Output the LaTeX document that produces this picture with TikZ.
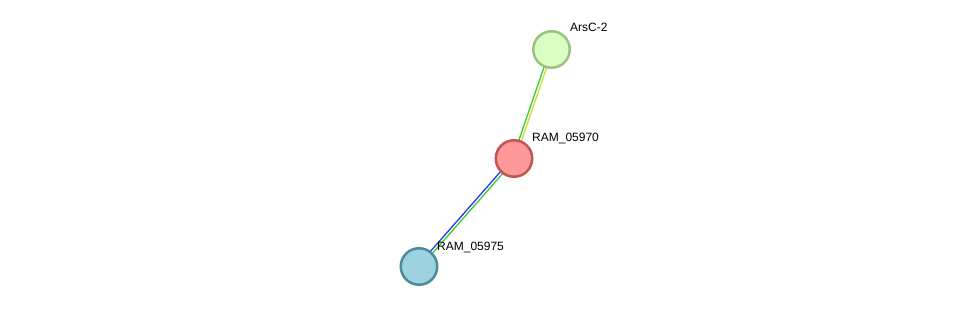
\documentclass[tikz,border=0pt]{standalone}
\usepackage{fontspec}
\setmainfont{Liberation Sans}
\begin{document}
\begin{tikzpicture}[x=1pt,y=-1pt,
  prot/.style={circle,line width=2.5pt,minimum size=36.5pt,inner sep=0pt},
  lbl/.style={font=\fontsize{12pt}{14pt}\selectfont,anchor=base west,inner sep=0pt},
  edge/.style={line width=1.3pt}]
\definecolor{gfill}{HTML}{D9FFC2}\definecolor{gdraw}{HTML}{9BC283}
\definecolor{rfill}{HTML}{FF9999}\definecolor{rdraw}{HTML}{C05555}
\definecolor{bfill}{HTML}{9DD3E0}\definecolor{bdraw}{HTML}{4F8A99}
\definecolor{egreen}{HTML}{33CC33}\definecolor{eyellow}{HTML}{CCDD33}\definecolor{eblue}{HTML}{3333EE}
\useasboundingbox (0,0) rectangle (975,313);
\coordinate (a) at (551.5,49.5);
\coordinate (b) at (514,158.5);
\coordinate (c) at (419,266.5);
\draw[edge,egreen] ([xshift=-1.4pt]a) -- ([xshift=-1.4pt]b);
\draw[edge,eyellow] ([xshift=1.4pt]a) -- ([xshift=1.4pt]b);
\draw[edge,eblue] ([shift={(-1.05pt,0.92pt)}]b) -- ([shift={(-1.05pt,0.92pt)}]c);
\draw[edge,egreen] ([shift={(1.05pt,-0.92pt)}]b) -- ([shift={(1.05pt,-0.92pt)}]c);
\node[prot,fill=gfill,draw=gdraw] (na) at (a) {};
\node[prot,fill=rfill,draw=rdraw] (nb) at (b) {};
\node[prot,fill=bfill,draw=bdraw] (nc) at (c) {};
\node[lbl] (la) at (570,32) {ArsC-2};
\node[lbl] (lb) at (532,141) {RAM\_05970};
\node[lbl] (lc) at (437,250) {RAM\_05975};
\end{tikzpicture}
\end{document}
